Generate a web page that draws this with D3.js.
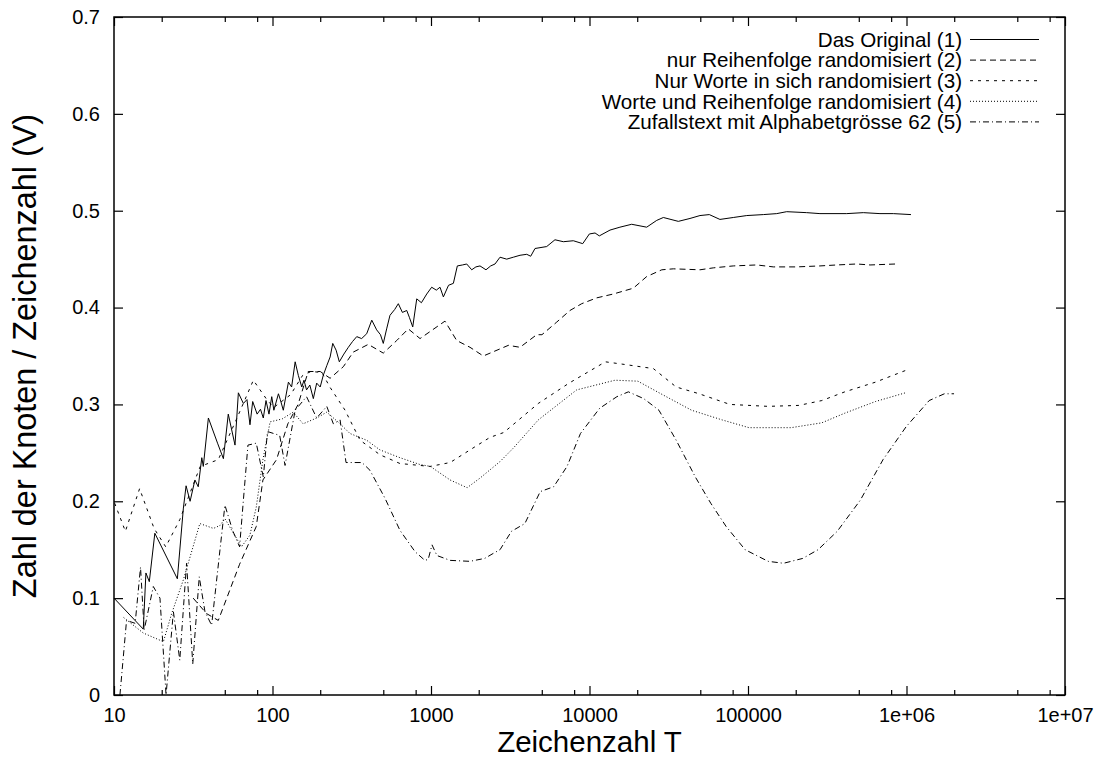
<!DOCTYPE html>
<html><head><meta charset="utf-8">
<script src="https://cdn.jsdelivr.net/npm/d3@7/dist/d3.min.js"></script>
<style>
body{margin:0;background:#fff}
text{font-family:"Liberation Sans",Arial,Helvetica,sans-serif;fill:#000}
</style></head>
<body><svg id="c" width="1102" height="759"></svg>
<script>
// ---- data ----
const seriesLabels = [
  "Das Original (1)",
  "nur Reihenfolge randomisiert (2)",
  "Nur Worte in sich randomisiert (3)",
  "Worte und Reihenfolge randomisiert (4)",
  "Zufallstext mit Alphabetgrösse 62 (5)"
];
const original = [[10,0.100],[15.3,0.068],[15.9,0.126],[16.7,0.117],[18.1,0.167],[25.1,0.120],[27.4,0.193],[28.5,0.216],[30.2,0.200],[32.4,0.222],[34,0.215],[35.8,0.245],[36.6,0.236],[39.4,0.286],[45,0.260],[49,0.244],[52.6,0.290],[58,0.258],[60.9,0.312],[65.5,0.301],[69,0.305],[72.1,0.279],[75,0.303],[80,0.290],[84,0.295],[87.5,0.286],[91,0.304],[95,0.290],[98.9,0.308],[102,0.294],[109,0.311],[112,0.305],[117,0.294],[126,0.323],[132,0.318],[139,0.344],[145.5,0.330],[153,0.318],[158,0.325],[164,0.315],[172,0.320],[181,0.306],[190,0.322],[200,0.318],[209,0.330],[220,0.340],[231,0.349],[240,0.363],[252,0.356],[264,0.344],[282,0.352],[301,0.359],[320,0.365],[340,0.370],[365,0.368],[393,0.373],[423,0.387],[454,0.377],[480,0.372],[500,0.363],[525,0.378],[551,0.392],[590,0.398],[622,0.404],[660,0.395],[703,0.397],[730,0.390],[767,0.380],[813,0.409],[870,0.405],[940,0.414],[1010,0.421],[1080,0.418],[1140,0.421],[1197,0.411],[1290,0.423],[1384,0.425],[1466,0.443],[1580,0.444],[1680,0.445],[1807,0.439],[1920,0.442],[2038,0.443],[2223,0.439],[2380,0.443],[2535,0.445],[2725,0.452],[3004,0.450],[3306,0.452],[3645,0.454],[4018,0.455],[4256,0.453],[4531,0.461],[5370,0.463],[6055,0.470],[6838,0.468],[7907,0.469],[9064,0.466],[9980,0.476],[10840,0.477],[11530,0.474],[13470,0.480],[15560,0.483],[18450,0.486],[22950,0.483],[26550,0.490],[29240,0.493],[36340,0.489],[43050,0.492],[49780,0.495],[57000,0.496],[66530,0.491],[80760,0.493],[98200,0.495],[125000,0.496],[151800,0.497],[175400,0.499],[234500,0.498],[284400,0.497],[419600,0.497],[533900,0.498],[680300,0.497],[826000,0.497],[1067000,0.496]];
const nurReihenfolge = [[31.6,0.100],[38.4,0.084],[45.5,0.077],[62,0.135],[79,0.174],[87,0.222],[106,0.243],[125,0.280],[145,0.300],[168,0.334],[200,0.334],[231,0.327],[280,0.339],[323,0.354],[402,0.362],[500,0.353],[608,0.366],[719,0.378],[853,0.368],[1225,0.386],[1452,0.366],[1762,0.359],[2138,0.350],[3076,0.361],[3645,0.359],[4645,0.372],[5012,0.372],[6210,0.385],[7530,0.397],[8930,0.404],[11090,0.410],[14130,0.414],[18900,0.420],[22950,0.432],[28580,0.439],[33810,0.440],[49780,0.439],[60400,0.441],[80760,0.443],[113500,0.444],[144500,0.442],[202800,0.442],[284400,0.443],[363100,0.444],[485300,0.445],[588800,0.444],[858800,0.445]];
const nurWorte = [[10.1,0.198],[11.8,0.169],[14.5,0.213],[17.9,0.172],[21.2,0.153],[26,0.181],[35,0.236],[45.5,0.243],[59,0.284],[75.7,0.325],[93,0.304],[102,0.297],[130,0.310],[155,0.330],[175,0.334],[205,0.333],[230,0.318],[287,0.294],[357,0.263],[477,0.248],[637,0.239],[987,0.236],[1320,0.240],[1760,0.253],[2357,0.266],[2877,0.271],[4752,0.301],[7430,0.322],[12600,0.344],[17100,0.341],[25290,0.337],[35240,0.318],[49200,0.311],[76910,0.300],[134000,0.298],[209400,0.299],[292400,0.304],[408300,0.313],[637000,0.323],[984000,0.335]];
const worteUndReihenfolge = [[11.5,0.080],[15.3,0.064],[20.5,0.055],[23.1,0.084],[27.4,0.119],[34.8,0.177],[42.4,0.172],[46.6,0.175],[50.1,0.182],[63.8,0.153],[72,0.165],[79,0.194],[87,0.243],[96.6,0.282],[115,0.285],[135,0.292],[156,0.280],[190,0.286],[220,0.292],[267,0.280],[308,0.270],[393,0.263],[477,0.253],[637,0.245],[850,0.238],[990,0.236],[1320,0.222],[1690,0.214],[2040,0.224],[2725,0.241],[3311,0.255],[4752,0.284],[8298,0.315],[14490,0.325],[20200,0.324],[28200,0.311],[44060,0.294],[68710,0.284],[101400,0.276],[187100,0.276],[292000,0.281],[408300,0.291],[637000,0.303],[984000,0.312]];
const zufallstext = [[10.9,0.0],[12.0,0.077],[13.6,0.074],[14.7,0.132],[15.5,0.067],[17.7,0.112],[19.5,0.100],[21.3,0.0],[23.7,0.086],[26,0.036],[28.7,0.136],[31.4,0.032],[34.5,0.122],[37.5,0.086],[41.3,0.072],[50.1,0.196],[56,0.170],[62,0.153],[65.5,0.201],[70,0.258],[79,0.260],[87.5,0.225],[93,0.272],[111,0.268],[120,0.237],[139,0.294],[164,0.308],[190,0.286],[220,0.298],[242,0.280],[267,0.284],[291,0.240],[367,0.240],[412,0.232],[513,0.203],[637,0.170],[793,0.148],[915,0.139],[960,0.140],[1015,0.155],[1090,0.144],[1320,0.139],[1760,0.138],[2180,0.141],[2520,0.147],[2725,0.150],[3218,0.169],[3910,0.177],[4887,0.210],[5940,0.215],[7217,0.236],[8770,0.270],[11590,0.296],[14890,0.308],[17590,0.313],[21980,0.306],[27420,0.294],[35240,0.263],[46560,0.225],[58210,0.198],[72780,0.174],[95940,0.150],[134000,0.138],[167500,0.136],[221300,0.141],[276700,0.150],[365600,0.169],[510500,0.201],[711200,0.243],[995000,0.277],[1390000,0.304],[1734000,0.311],[1995000,0.311]];

const xMajorTicks = [10,100,1000,10000,100000,1e6,1e7];
const xTickLabels = ["10","100","1000","10000","100000","1e+06","1e+07"];
const xMinorTicks = [20,50,80,200,500,800,2000,5000,8000,20000,50000,80000,200000,500000,800000,2e6,5e6,8e6];
const yTicks = [0,0.1,0.2,0.3,0.4,0.5,0.6,0.7];
const yTickLabels = ["0","0.1","0.2","0.3","0.4","0.5","0.6","0.7"];
const xTitle = "Zeichenzahl T";
const yTitle = "Zahl der Knoten / Zeichenzahl (V)";

// ---- layout ----
const L=114,R=1065,T=17,B=695;
const svg = d3.select("#c");
const x = d3.scaleLog().domain([10,1e7]).range([L,R]);
const y = d3.scaleLinear().domain([0,0.7]).range([B,T]);
const dashes = [null,"6,4","3,5","1,2","6,3,1,3"];
const allSeries = [original,nurReihenfolge,nurWorte,worteUndReihenfolge,zufallstext];

const FS = 20;
function styleAxis(g){ g.select(".domain").remove(); g.selectAll("line").attr("stroke","#000").attr("stroke-width",1.2); g.selectAll("text").attr("font-size",FS).attr("font-family",'"Liberation Sans",Arial,sans-serif'); }

svg.append("g").attr("transform",`translate(0,${B})`)
  .call(d3.axisBottom(x).tickValues(xMajorTicks).tickSize(-9).tickPadding(13).tickFormat((d,i)=>xTickLabels[i])).call(styleAxis);
svg.append("g").attr("transform",`translate(0,${B})`)
  .call(d3.axisBottom(x).tickValues(xMinorTicks).tickSize(-5).tickFormat("")).call(styleAxis);
svg.append("g").attr("transform",`translate(0,${T})`)
  .call(d3.axisTop(x).tickValues(xMajorTicks).tickSize(-9).tickFormat("")).call(styleAxis);
svg.append("g").attr("transform",`translate(0,${T})`)
  .call(d3.axisTop(x).tickValues(xMinorTicks).tickSize(-5).tickFormat("")).call(styleAxis);
svg.append("g").attr("transform",`translate(${L},0)`)
  .call(d3.axisLeft(y).tickValues(yTicks).tickSize(-9).tickPadding(14).tickFormat((d,i)=>yTickLabels[i])).call(styleAxis);
svg.append("g").attr("transform",`translate(${R},0)`)
  .call(d3.axisRight(y).tickValues(yTicks).tickSize(-9).tickFormat("")).call(styleAxis);

svg.append("rect").attr("x",L).attr("y",T).attr("width",R-L).attr("height",B-T)
  .attr("fill","none").attr("stroke","#000").attr("stroke-width",1.5);

const line = d3.line().x(d=>x(d[0])).y(d=>y(d[1]));
allSeries.forEach((s,i)=>{
  svg.append("path").datum(s).attr("d",line).attr("fill","none")
    .attr("stroke","#000").attr("stroke-width",1).attr("stroke-dasharray",dashes[i]);
});

// legend
const lg = svg.append("g");
seriesLabels.forEach((lab,i)=>{
  const yy = 39.5 + i*20.6;
  lg.append("text").attr("x",962).attr("y",yy).attr("dy","0.35em").attr("text-anchor","end")
    .attr("font-size",20.6).text(lab);
  lg.append("line").attr("x1",970).attr("x2",1039).attr("y1",yy).attr("y2",yy)
    .attr("stroke","#000").attr("stroke-width",1).attr("stroke-dasharray",dashes[i]);
});

svg.append("text").attr("x",(L+R)/2).attr("y",752).attr("text-anchor","middle").attr("font-size",29.5).text(xTitle);
svg.append("text").attr("transform",`translate(36,${(T+B)/2}) rotate(-90)`).attr("text-anchor","middle").attr("font-size",32.4).text(yTitle);
</script></body></html>
